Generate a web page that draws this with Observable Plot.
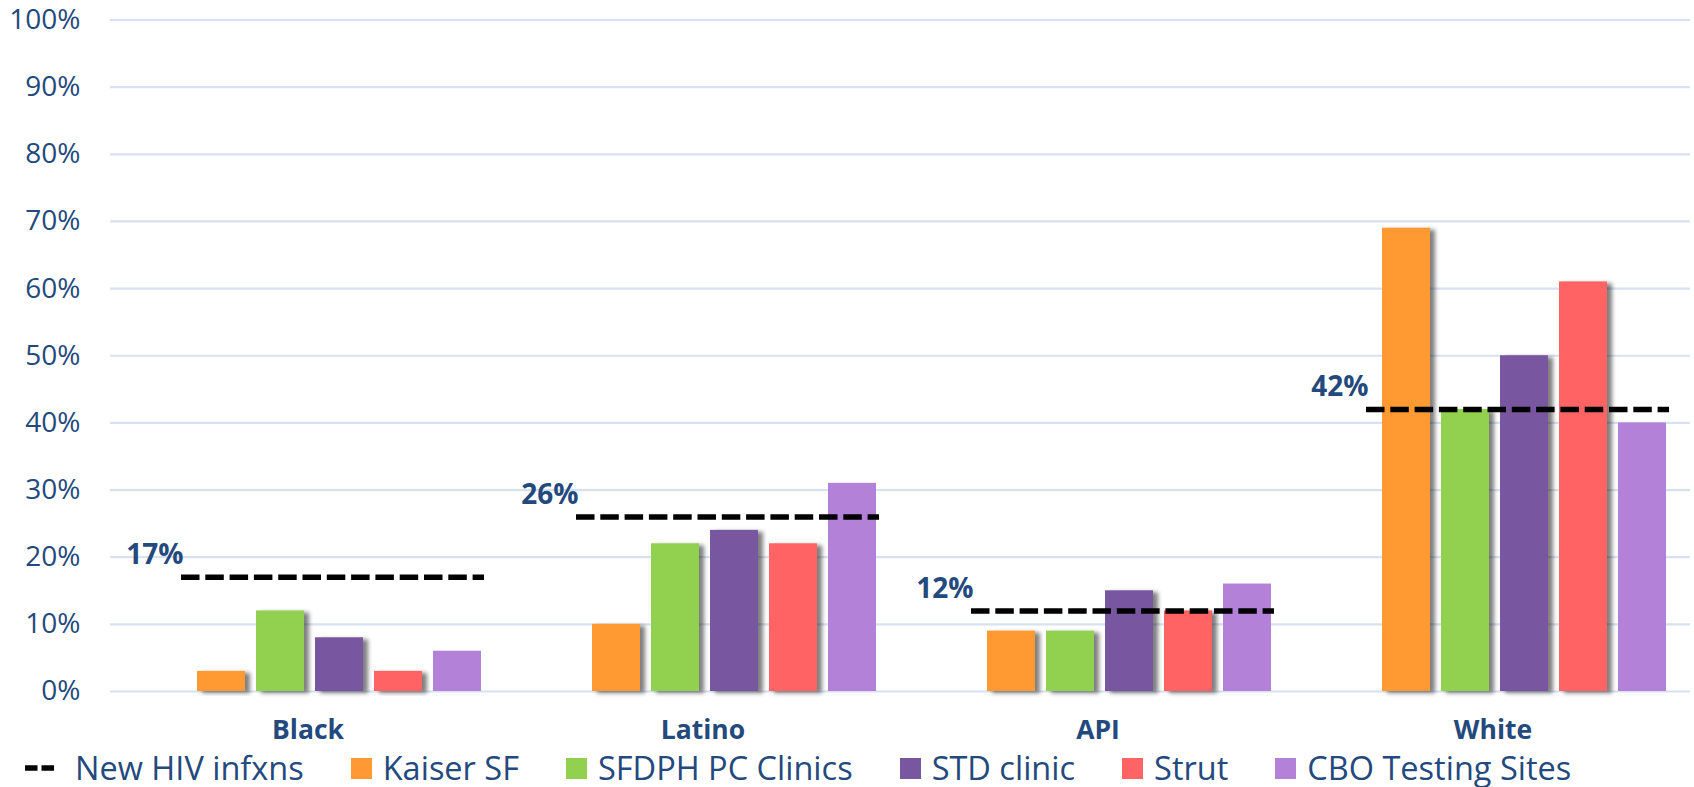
<!DOCTYPE html>
<html>
<head>
<meta charset="utf-8">
<script src="https://cdn.jsdelivr.net/npm/d3@7"></script>
<script src="https://cdn.jsdelivr.net/npm/@observablehq/plot@0.6"></script>
<style>
  html, body { margin: 0; padding: 0; background: #fff; }
  #chart svg { display: block; }
  #chart svg { font-family: "Open Sans", sans-serif; }
  [aria-label^="y-axis"] text { font-size: 28px; font-family: "Open Sans", sans-serif; }
  [aria-label^="fx-axis"] text { font-size: 26.5px; font-weight: bold; font-family: "Open Sans", sans-serif; }
  #legend {
    position: relative;
    display: flex; align-items: center; height: 42px; margin-top: -5px;
    padding-left: 25px; font-family: "Open Sans", sans-serif; font-size: 32.5px;
    color: #23497d; line-height: 42px; white-space: nowrap;
  }
  #legend .item { display: flex; align-items: center; margin-right: 47px; }
  #legend .sw { width: 21px; height: 21px; margin-right: 11px; }
  #legend svg { margin-right: 21px; }
</style>
</head>
<body>
<div id="chart"></div>
<div id="legend"></div>
<script>
const categories = ["Black", "Latino", "API", "White"];
const series = ["Kaiser SF", "SFDPH PC Clinics", "STD clinic", "Strut", "CBO Testing Sites"];
const kaiserSF = [3, 10, 9, 69];
const sfdphPC = [12, 22, 9, 42];
const stdClinic = [8, 24, 15, 50];
const strut = [3, 22, 12, 61];
const cboTesting = [6, 31, 16, 40];
const newHivInfxns = [17, 26, 12, 42];
const seriesColors = ["#FF9933", "#92D050", "#7856A0", "#FF6363", "#B381D8"];
const yTicks = [0, 10, 20, 30, 40, 50, 60, 70, 80, 90, 100];
const lineLabel = "New HIV infxns";

const seriesValues = [kaiserSF, sfdphPC, stdClinic, strut, cboTesting];
const rows = [];
categories.forEach((c, i) => {
  series.forEach((s, j) => rows.push({category: c, series: s, value: seriesValues[j][i]}));
});
const hivRows = categories.map((c, i) => ({category: c, value: newHivInfxns[i]}));

const textBlue = "#23497d";

const chart = Plot.plot({
  width: 1694,
  height: 752,
  marginLeft: 109,
  marginRight: 3,
  marginTop: 19.5,
  marginBottom: 61,
  style: {color: textBlue, background: "white"},
  fx: {domain: categories, padding: 0, label: null, axis: "bottom", tickSize: 0, tickPadding: 29},
  x: {domain: series, paddingInner: 0.19, paddingOuter: 0.89, align: 0.786, axis: null},
  y: {domain: [0, 100], ticks: yTicks, tickFormat: d => d + "%", tickSize: 0, tickPadding: 30, label: null},
  color: {domain: series, range: seriesColors},
  marks: [
    Plot.ruleY(yTicks, {stroke: "#d7e2f1", strokeWidth: 2.2}),
    Plot.barY(rows, {fx: "category", x: "series", y: "value", fill: "series"}),
    Plot.ruleY(hivRows, {
      fx: "category", y: "value", insetLeft: 71, insetRight: 21,
      stroke: "black", strokeWidth: 5.5, strokeDasharray: "18.5,5.8"
    }),
    Plot.text(hivRows, {
      fx: "category", y: "value", text: d => d.value + "%",
      frameAnchor: "left", dx: 73, dy: -22, textAnchor: "end",
      fill: textBlue, fontSize: 28, fontWeight: "bold"
    })
  ]
});

// drop shadows on bars (as in the reference, except the last series)
const svgNS = "http://www.w3.org/2000/svg";
const defs = document.createElementNS(svgNS, "defs");
defs.innerHTML = `<filter id="shadow" x="-20%" y="-10%" width="150%" height="130%">
  <feDropShadow dx="5" dy="2" stdDeviation="2.2" flood-color="#000" flood-opacity="0.5"/>
</filter>`;
chart.insertBefore(defs, chart.firstChild);
chart.querySelectorAll('g[aria-label="bar"] rect').forEach(r => {
  const f = (r.getAttribute("fill") || "").toLowerCase();
  if (f !== seriesColors[4].toLowerCase()) r.setAttribute("filter", "url(#shadow)");
});

document.getElementById("chart").appendChild(chart);

// legend
const legend = document.getElementById("legend");
const lineItem = document.createElement("div");
lineItem.className = "item";
lineItem.innerHTML = `<svg width="29" height="8"><line x1="0" y1="4" x2="29" y2="4" stroke="black" stroke-width="5.5" stroke-dasharray="12.5,4"/></svg><span>${lineLabel}</span>`;
legend.appendChild(lineItem);
series.forEach((s, j) => {
  const it = document.createElement("div");
  it.className = "item";
  it.innerHTML = `<div class="sw" style="background:${seriesColors[j]}"></div><span>${s}</span>`;
  legend.appendChild(it);
});
</script>
</body>
</html>
